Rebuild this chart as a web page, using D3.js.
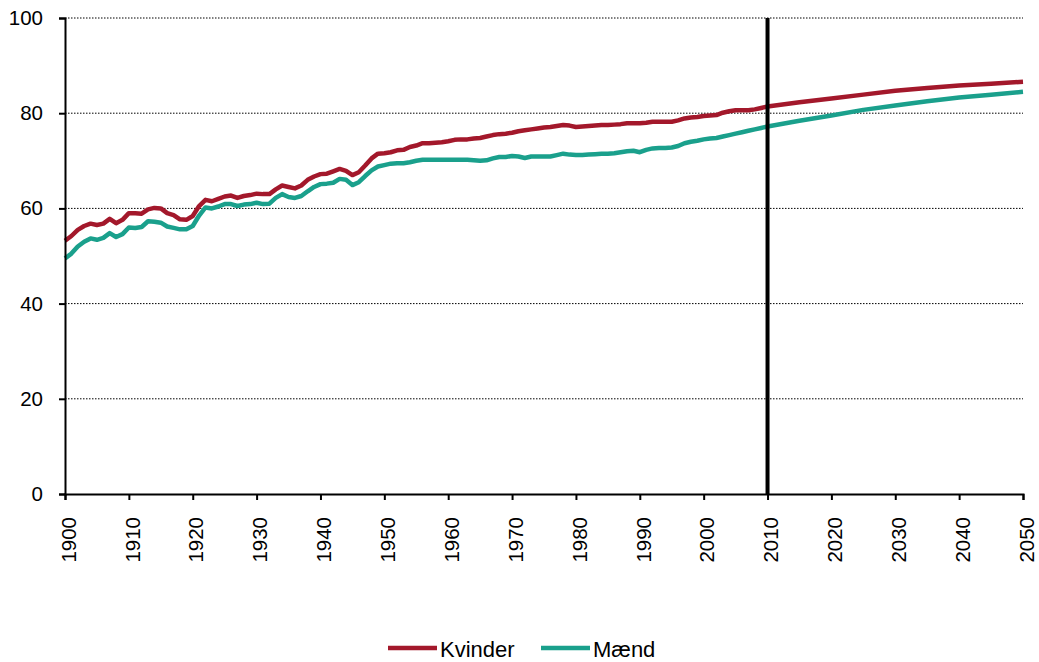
<!DOCTYPE html>
<html><head><meta charset="utf-8">
<script src="https://cdn.jsdelivr.net/npm/d3@7"></script>
<style>body{margin:0;background:#fff;} text{font-family:"Liberation Sans",Arial,sans-serif;}</style>
</head><body><svg id="c" width="1039" height="662"></svg>
<script>
const histYears = d3.range(1900, 2011);
const kvinderHist = [53.2,54.2,55.5,56.3,56.8,56.5,56.8,57.8,56.9,57.6,
59.0,59.0,58.9,59.8,60.1,60.0,59.0,58.6,57.7,57.6,
58.4,60.5,61.8,61.5,62.0,62.5,62.7,62.2,62.6,62.8,
63.1,63.0,63.0,64.0,64.8,64.5,64.2,64.8,66.0,66.7,
67.2,67.3,67.8,68.3,67.9,67.0,67.6,69.0,70.5,71.5,
71.6,71.8,72.2,72.3,72.9,73.2,73.7,73.7,73.8,73.9,
74.1,74.4,74.5,74.5,74.7,74.8,75.1,75.4,75.6,75.7,
75.9,76.2,76.4,76.6,76.8,77.0,77.1,77.3,77.5,77.4,
77.1,77.2,77.3,77.4,77.5,77.5,77.6,77.7,77.9,77.9,
77.9,78.0,78.2,78.2,78.2,78.2,78.5,78.9,79.1,79.2,
79.4,79.5,79.6,80.1,80.4,80.6,80.6,80.6,80.8,81.1,81.4];
const maendHist = [49.5,50.5,52.0,53.0,53.7,53.4,53.8,54.8,54.0,54.6,
56.0,55.9,56.1,57.3,57.2,57.0,56.2,55.9,55.6,55.6,
56.3,58.5,60.2,60.0,60.4,60.9,60.9,60.5,60.8,60.9,
61.2,60.9,61.0,62.2,63.0,62.4,62.2,62.6,63.6,64.5,
65.1,65.2,65.4,66.2,66.0,64.9,65.5,66.8,68.0,68.8,
69.1,69.4,69.5,69.5,69.7,70.0,70.2,70.2,70.2,70.2,
70.2,70.2,70.2,70.2,70.1,70.0,70.1,70.5,70.8,70.8,
71.0,70.9,70.6,70.9,70.9,70.9,70.9,71.2,71.5,71.3,
71.2,71.2,71.3,71.4,71.5,71.5,71.6,71.8,72.0,72.1,
71.8,72.3,72.6,72.7,72.7,72.8,73.1,73.7,74.0,74.2,
74.5,74.7,74.8,75.1,75.4,75.7,76.0,76.3,76.6,76.9,77.2];
const projYears = [2015,2020,2025,2030,2035,2040,2045,2050];
const kvinderProj = [82.3,83.1,83.9,84.7,85.3,85.8,86.2,86.6];
const maendProj = [78.4,79.5,80.7,81.6,82.5,83.3,83.9,84.5];
const xTicks = d3.range(1900, 2051, 10);
const yTicks = [0,20,40,60,80,100];
const seriesNames = ["Kvinder","Mænd"];
const seriesColors = ["#A3182B","#1AA08C"];
const markerYear = 2010;

const years = histYears.concat(projYears);
const series = [kvinderHist.concat(kvinderProj), maendHist.concat(maendProj)];

const svg = d3.select("#c");
const L=65, R=1023, T=18, B=494;
const x = d3.scaleLinear().domain([1900,2050]).range([L,R]);
const y = d3.scaleLinear().domain([0,100]).range([B,T]);

// gridlines
svg.append("g").selectAll("line").data(yTicks.filter(d=>d>0)).join("line")
  .attr("x1",L).attr("x2",R).attr("y1",d=>y(d)).attr("y2",d=>y(d))
  .attr("stroke","#000").attr("stroke-width",1).attr("stroke-dasharray","1.5,1.5");

// lines
const line = d3.line().x((d,i)=>x(years[i])).y(d=>y(d));
series.forEach((s,k)=>{
  svg.append("path").datum(s).attr("d",line).attr("fill","none")
    .attr("stroke",seriesColors[k]).attr("stroke-width",4.5).attr("stroke-linejoin","round");
});

// 2010 marker
svg.append("line").attr("x1",x(markerYear)).attr("x2",x(markerYear)).attr("y1",y(100)).attr("y2",y(0))
  .attr("stroke","#000").attr("stroke-width",4);

// axes
const ya = svg.append("g").attr("transform",`translate(${L},0)`)
  .call(d3.axisLeft(y).tickValues(yTicks).tickSize(6).tickPadding(16).tickFormat(d3.format("d")));
ya.select(".domain").attr("stroke-width",2);
ya.selectAll(".tick line").attr("stroke-width",2);
ya.selectAll("text").attr("font-size",20.5).attr("font-family","Liberation Sans, Arial, sans-serif").attr("fill","#000");

const xa = svg.append("g").attr("transform",`translate(0,${B})`)
  .call(d3.axisBottom(x).tickValues(xTicks).tickSize(6).tickFormat(d3.format("d")));
xa.select(".domain").attr("stroke-width",2);
xa.selectAll(".tick line").attr("stroke-width",2);
xa.selectAll("text").attr("font-size",20.5).attr("font-family","Liberation Sans, Arial, sans-serif").attr("fill","#000")
  .attr("transform","rotate(-90)").attr("text-anchor","end").attr("dy","0.5em").attr("x",-23).attr("y",0);

// legend
const leg = svg.append("g");
const legX = [388, 541];
seriesNames.forEach((n,k)=>{
  leg.append("line").attr("x1",legX[k]).attr("x2",legX[k]+49).attr("y1",648).attr("y2",648)
    .attr("stroke",seriesColors[k]).attr("stroke-width",4.5);
  leg.append("text").attr("x",legX[k]+52).attr("y",657).attr("font-size",22).text(n);
});
</script></body></html>
